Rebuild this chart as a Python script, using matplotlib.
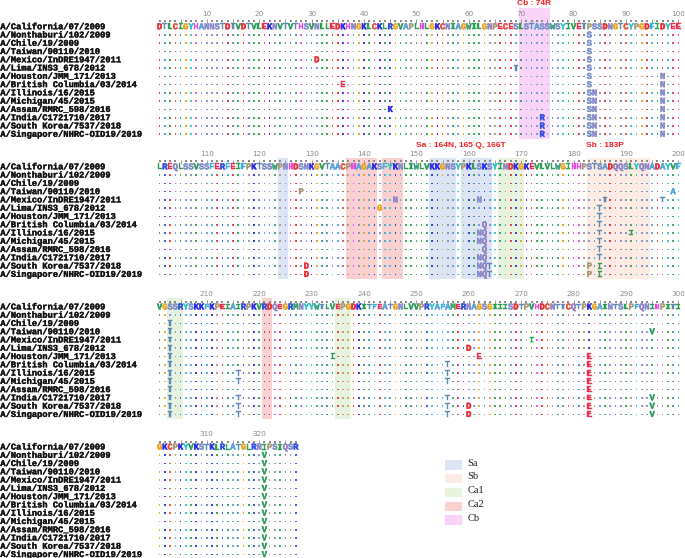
import matplotlib
matplotlib.use("Agg")
import matplotlib.pyplot as plt
import matplotlib.patheffects as pe
from matplotlib.patches import Rectangle

# ---------------- data ----------------
strains = [
    "A/California/07/2009", "A/Nonthaburi/102/2009", "A/Chile/19/2009",
    "A/Taiwan/90110/2010", "A/Mexico/InDRE1947/2011", "A/Lima/INS3_678/2012",
    "A/Houston/JMM_171/2013", "A/British Columbia/03/2014", "A/Illinois/16/2015",
    "A/Michigan/45/2015", "A/Assam/RMRC_598/2016", "A/India/C1721710/2017",
    "A/South Korea/7537/2018", "A/Singapore/NHRC-OID19/2019",
]

reference = (
    "DTLCIGYHANNSTDTVDTVLEKNVTVTHSVNLLEDKHNGKLCKLRGVAPLHLGKCNIAGWILGNPECESLSTASSWSYIVETPSSDNGTCYPGDFIDYEE"
    "LREQLSSVSSFERFEIFPKTSSWPNHDSNKGVTAACPHAGAKSFYKNLIWLVKKGNSYPKLSKSYINDKGKEVLVLWGIHHPSTSADQQSLYQNADAYVF"
    "VGSSRYSKKFKPEIAIRPKVRDQEGRMNYYWTLVEPGDKITFEATGNLVVPRYAFAMERNAGSGIIISDTPVHDCNTTCQTPKGAINTSLPFQNIHPITI"
    "GKCPKYVKSTKLRLATGLRNIPSIQSR"
)

# (position, substituted residue, strain indices carrying it)
substitutions = [
    (31, "D", [4]), (36, "E", [7]), (45, "K", [10]), (69, "T", [5]),
    (74, "R", [11, 12, 13]),
    (83, "S", [1, 2, 3, 4, 5, 6, 7, 8, 9, 10, 11, 12, 13]),
    (84, "N", [8, 9, 10, 11, 12, 13]),
    (97, "N", [6, 7, 8, 9, 10, 11, 12, 13]),
    (128, "P", [3]), (129, "D", [12, 13]), (143, "G", [5]), (146, "N", [4]),
    (162, "N", [4, 8, 9, 11, 12, 13]),
    (163, "Q", [7, 8, 9, 10, 11, 12, 13]),
    (164, "T", [12, 13]), (183, "P", [12, 13]),
    (185, "T", [5, 6, 7, 8, 9, 10, 11]), (185, "I", [12, 13]),
    (186, "T", [4]), (191, "I", [8]), (197, "T", [4]), (199, "A", [3]),
    (203, "T", [2, 3, 4, 5, 6, 7, 8, 9, 10, 11, 12, 13]),
    (216, "T", [8, 9, 11, 12, 13]), (234, "I", [6]),
    (256, "T", [7, 8, 9, 11, 12, 13]), (260, "D", [5, 12, 13]),
    (262, "E", [6]), (272, "I", [4]),
    (283, "E", [6, 7, 8, 9, 10, 11, 12, 13]),
    (295, "V", [3, 11, 12, 13]),
    (321, "V", [1, 2, 3, 4, 5, 6, 7, 8, 9, 10, 11, 12, 13]),
]

site_names = ["Sa", "Sb", "Ca1", "Ca2", "Cb"]
site_ranges = [
    ("Sa", 124, 125), ("Sa", 153, 157), ("Sa", 159, 164),
    ("Sb", 183, 194),
    ("Ca1", 166, 170), ("Ca1", 203, 205), ("Ca1", 235, 237),
    ("Ca2", 137, 142), ("Ca2", 144, 147), ("Ca2", 221, 222),
    ("Cb", 70, 75),
]
site_colors = {"Sa": "#dce5f3", "Sb": "#fcece3", "Ca1": "#e8f3df",
               "Ca2": "#fbd0d0", "Cb": "#f8d4f8"}

site_notes = [("Cb : 74R", 72.5), ("Sa : 164N, 165 Q, 166T", 158.4),
              ("Sb : 183P", 185.9)]

aa_colors = {
    "A": "#5aa0d8", "R": "#2f4fe0", "N": "#8a88c8", "D": "#ec2b33",
    "C": "#e8503a", "Q": "#9080c4", "E": "#e8304e", "G": "#eba21e",
    "H": "#e04ee0", "I": "#2e9e52", "L": "#2e9e52", "K": "#2a2ae0",
    "M": "#3aa866", "F": "#35aee0", "P": "#a89a78", "S": "#7d8ec8",
    "T": "#5c88b4", "W": "#3ea080", "Y": "#2ec4c4", "V": "#2e9e5e",
}

# ---------------- layout ----------------
block_len = 100
block_pitch = 16.94
mono = "Liberation Mono"

fig = plt.figure(figsize=(6.85, 5.58), dpi=100)
ax = fig.add_axes([0, 0, 1, 1])
ax.set_xlim(-29.46, 101.26)
ax.set_ylim(64.24, -3.23)
ax.axis("off")


def place(pos):
    b = (pos - 1) // block_len
    return (pos - 1) % block_len + 1, b * block_pitch


def heavy(color, w=0.3):
    return [pe.withStroke(linewidth=w, foreground=color)]


n_blocks = (len(reference) - 1) // block_len + 1

# antigenic-site shading
for name, s, e in site_ranges:
    c0, y0 = place(s)
    top = -2.3 if name == "Cb" else -1.05
    ax.add_patch(Rectangle((c0 - 0.5, y0 + top), e - s + 1, 13.55 - top,
                           facecolor=site_colors[name], edgecolor="none", zorder=0))

# strain names
for b in range(n_blocks):
    y0 = b * block_pitch
    for r, nm in enumerate(strains):
        ax.text(-29.4, y0 + r, nm, fontfamily=mono, fontweight="bold",
                fontsize=6.3, ha="left", va="center", color="#111111",
                path_effects=heavy("#111111", 0.25))

# ruler
for b in range(n_blocks):
    y0 = b * block_pitch
    start = b * block_len + 1
    end = min(len(reference), (b + 1) * block_len)
    dx, bx = [], []
    for pos in range(start, end + 1):
        c = pos - b * block_len
        if pos % 5 == 0:
            bx.append(c)
        else:
            dx.append(c)
        if pos % 10 == 0:
            ax.text(c, y0 - 1.55, str(pos), fontsize=5.2, color="#8a8a8a",
                    ha="center", va="center")
    ax.scatter(dx, [y0 - 0.65] * len(dx), s=0.6, marker="s", color="#8a8a8a",
               linewidths=0, zorder=2)
    ax.vlines(bx, y0 - 0.88, y0 - 0.38, color="#8a8a8a", linewidth=0.6, zorder=2)

# reference sequence
for i, aa in enumerate(reference):
    c, y0 = place(i + 1)
    ax.text(c, y0, aa, fontfamily=mono, fontweight="bold", fontsize=6.4,
            ha="center", va="center", color=aa_colors[aa], zorder=3,
            path_effects=heavy(aa_colors[aa]))

# substitutions and identity dots
sub_map = {}
for pos, aa, rows in substitutions:
    for r in rows:
        sub_map[(pos, r)] = aa

dot_x, dot_y, dot_c = [], [], []
for r in range(1, len(strains)):
    for i, ref_aa in enumerate(reference):
        pos = i + 1
        c, y0 = place(pos)
        if (pos, r) in sub_map:
            aa = sub_map[(pos, r)]
            ax.text(c, y0 + r, aa, fontfamily=mono, fontweight="bold",
                    fontsize=6.4, ha="center", va="center",
                    color=aa_colors[aa], zorder=3,
                    path_effects=heavy(aa_colors[aa]))
        else:
            dot_x.append(c)
            dot_y.append(y0 + r)
            dot_c.append(aa_colors[ref_aa])
ax.scatter(dot_x, dot_y, s=1.4, marker="s", c=dot_c, linewidths=0,
           alpha=0.9, zorder=2)

# site annotations
for text, pos in site_notes:
    b = int((pos - 1) // block_len)
    c = pos - b * block_len
    dy = -2.78 if b == 0 else -2.55
    ax.text(c, b * block_pitch + dy, text, color="#f42020", fontweight="bold",
            fontsize=6.0, fontfamily="Liberation Sans", ha="center", va="center",
            zorder=4)

# legend
for k, name in enumerate(site_names):
    yc = 53.0 + k * 1.66
    ax.add_patch(Rectangle((55.46, yc - 0.56), 3.2, 1.12,
                           facecolor=site_colors[name], edgecolor="none"))
    ax.text(59.8, yc - 0.22, name, fontfamily="Liberation Serif", fontsize=7.5,
            ha="left", va="center", color="#222222")

fig.savefig("out.png", dpi=100)
